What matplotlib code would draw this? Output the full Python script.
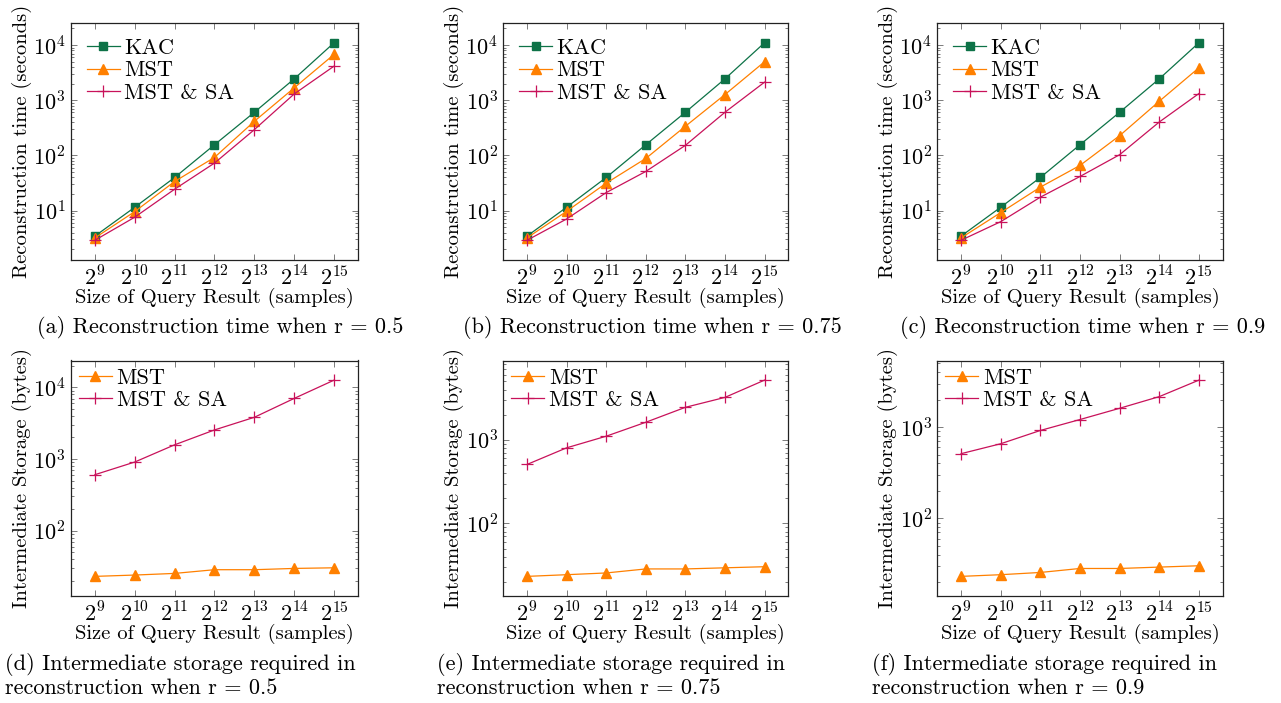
import matplotlib
matplotlib.use("Agg")
import matplotlib.pyplot as plt
from matplotlib.ticker import FixedLocator, FixedFormatter, LogLocator, LogFormatterMathtext, NullLocator, NullFormatter

plt.rcParams['font.family'] = 'serif'
plt.rcParams['font.serif'] = ['cmr10', 'DejaVu Serif']
plt.rcParams['mathtext.fontset'] = 'cm'
plt.rcParams['axes.formatter.use_mathtext'] = True

# ---------------- data ----------------
exponents = [9, 10, 11, 12, 13, 14, 15]
sizes = [2 ** e for e in exponents]
tick_labels = [r'$2^{%d}$' % e for e in exponents]

# Reconstruction time (seconds)
kac_time = [3.45, 11.5, 39.8, 156, 605, 2440, 11000]
mst_time_r05 = [3.2, 9.6, 33.7, 92, 415, 1675, 6770]
mstsa_time_r05 = [2.9, 7.6, 24.4, 72.6, 293, 1300, 4150]
mst_time_r075 = [3.2, 9.7, 31.4, 88, 337, 1267, 4980]
mstsa_time_r075 = [2.9, 7.05, 21.2, 51.2, 152, 605, 2125]
mst_time_r09 = [3.2, 9.2, 26.6, 65.8, 228, 958, 3870]
mstsa_time_r09 = [2.9, 6.3, 17.5, 41.5, 103, 403, 1322]

# Intermediate storage (bytes)
mst_store_r05 = [23, 24, 25.3, 28.5, 28.5, 29.7, 30.3]
mstsa_store_r05 = [605, 909, 1581, 2550, 3830, 7030, 12650]
mst_store_r075 = [23.3, 24.4, 25.6, 28.6, 28.6, 29.5, 30.4]
mstsa_store_r075 = [508, 803, 1106, 1624, 2450, 3220, 5180]
mst_store_r09 = [23.1, 24.1, 25.5, 28.2, 28.2, 29.2, 30.2]
mstsa_store_r09 = [512, 658, 920, 1213, 1611, 2163, 3280]

captions_top = ['(a) Reconstruction time when r = 0.5',
                '(b) Reconstruction time when r = 0.75',
                '(c) Reconstruction time when r = 0.9']
captions_bottom = [('(d) Intermediate storage required in', 'reconstruction when r = 0.5'),
                   ('(e) Intermediate storage required in', 'reconstruction when r = 0.75'),
                   ('(f) Intermediate storage required in', 'reconstruction when r = 0.9')]

GREEN = '#0d7247'
ORANGE = '#ff8000'
MAGENTA = '#c8125a'

FS_LABEL = 14.8
FS_TICK = 16
FS_LEG = 16
FS_CAP = 16

fig = plt.figure(figsize=(12.81, 7.03), dpi=100)

W, H = 1281.0, 703.0
lefts = [71, 503.3, 937.3]
rights = [358, 788.3, 1222.7]
top_row = (23, 260)
bot_row = (360.5, 596)


def make_ax(i, row):
    l, r = lefts[i], rights[i]
    t, b = row
    return fig.add_axes([l / W, 1 - b / H, (r - l) / W, (b - t) / H])


def style(ax, ylabel, pad):
    ax.set_xscale('log', base=2)
    ax.set_yscale('log')
    ax.margins(x=0.1, y=0.1)
    ax.xaxis.set_major_locator(FixedLocator(sizes))
    ax.xaxis.set_major_formatter(FixedFormatter(tick_labels))
    ax.xaxis.set_minor_locator(NullLocator())
    ax.yaxis.set_major_locator(LogLocator(base=10))
    ax.yaxis.set_major_formatter(LogFormatterMathtext())
    ax.yaxis.set_minor_locator(LogLocator(base=10, subs=range(2, 10)))
    ax.yaxis.set_minor_formatter(NullFormatter())
    ax.tick_params(which='both', direction='in', top=True, right=True,
                   color='#666666', width=0.6, labelsize=FS_TICK)
    ax.tick_params(which='major', length=4, pad=4)
    ax.tick_params(which='minor', length=2)
    for s in ax.spines.values():
        s.set_linewidth(0.9)
        s.set_color('#222222')
    ax.set_xlabel('Size of Query Result (samples)', fontsize=FS_LABEL, labelpad=-1)
    ax.set_ylabel(ylabel, fontsize=FS_LABEL, labelpad=1)
    ax.legend(loc='upper left', frameon=False, fontsize=FS_LEG, handlelength=1.5,
              handletextpad=0.2, labelspacing=0.12, borderaxespad=pad,
              borderpad=0.3)


def plot_kac(ax, y):
    ax.plot(sizes, y, color=GREEN, lw=0.9, marker='s', ms=5.5, label='KAC')


def plot_mst(ax, y):
    ax.plot(sizes, y, color=ORANGE, lw=0.9, marker='^', ms=7, label='MST')


def plot_mstsa(ax, y):
    ax.plot(sizes, y, color=MAGENTA, lw=0.9, marker='+', ms=8, mew=0.9, label='MST & SA')


top_mst = [mst_time_r05, mst_time_r075, mst_time_r09]
top_sa = [mstsa_time_r05, mstsa_time_r075, mstsa_time_r09]
bot_mst = [mst_store_r05, mst_store_r075, mst_store_r09]
bot_sa = [mstsa_store_r05, mstsa_store_r075, mstsa_store_r09]

cap_centers = [220, 652, 1083]
cap_lefts = [5, 437, 872]

for i in range(3):
    ax = make_ax(i, top_row)
    plot_kac(ax, kac_time)
    plot_mst(ax, top_mst[i])
    plot_mstsa(ax, top_sa[i])
    style(ax, 'Reconstruction time (seconds)', 0.4)
    fig.text(cap_centers[i] / W, 1 - 328 / H, captions_top[i], ha='center', va='center', fontsize=FS_CAP)

    ax = make_ax(i, bot_row)
    plot_mst(ax, bot_mst[i])
    plot_mstsa(ax, bot_sa[i])
    style(ax, 'Intermediate Storage (bytes)', 0.05)
    fig.text(cap_lefts[i] / W, 1 - 664 / H, captions_bottom[i][0], ha='left', va='center', fontsize=FS_CAP)
    fig.text(cap_lefts[i] / W, 1 - 688 / H, captions_bottom[i][1], ha='left', va='center', fontsize=FS_CAP)

fig.savefig('out.png', dpi=100)
